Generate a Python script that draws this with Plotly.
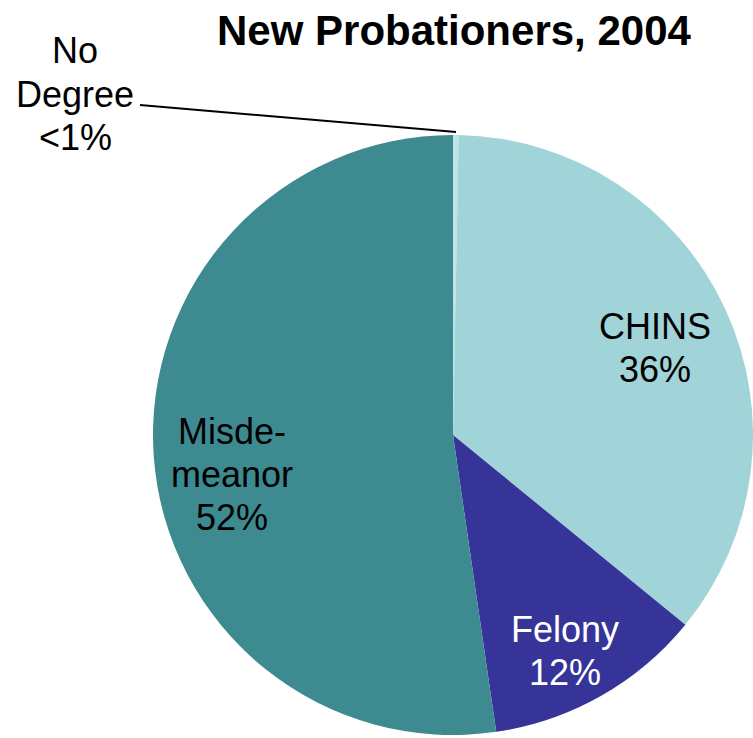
import plotly.graph_objects as go

W, H = 753, 738

categories = ["No Degree", "CHINS", "Felony", "Misdemeanor"]
values = [0.3, 35.6, 11.8, 52.3]
label_lines = [["No", "Degree", "<1%"], ["CHINS", "36%"], ["Felony", "12%"], ["Misde-", "meanor", "52%"]]
colors = ["#BEE2E5", "#A0D4D8", "#363499", "#3D8A90"]
title_text = "New Probationers, 2004"

# pie geometry (pixels)
cx, cy, r = 454, 435, 301

fig = go.Figure(go.Pie(
    labels=categories,
    values=values,
    sort=False,
    direction="clockwise",
    rotation=0,
    marker=dict(colors=colors, line=dict(width=0)),
    textinfo="none",
    hoverinfo="label+percent",
    showlegend=False,
    domain=dict(x=[(cx - r) / W, min(1, (cx + r) / W)], y=[1 - (cy + r) / H, 1 - (cy - r) / H]),
))

def px(x, y):
    return x / W, 1 - y / H

FONT = "Liberation Sans, Arial"
label_first = [(75, 51), (655, 326), (565, 629), (232, 431)]
label_colors = ["black", "black", "white", "black"]
line_gap = 43
annotations = []
for lines, (x, y), c in zip(label_lines, label_first, label_colors):
    for i, t in enumerate(lines):
        ax, ay = px(x, y + i * line_gap)
        annotations.append(dict(x=ax, y=ay, xref="paper", yref="paper", text=t, showarrow=False,
                                xanchor="center", yanchor="middle", align="center",
                                font=dict(family=FONT, size=36, color=c)))
tx, ty = px(454, 31)
annotations.append(dict(x=tx, y=ty, xref="paper", yref="paper", text="<b>" + title_text + "</b>",
                        showarrow=False, xanchor="center", yanchor="middle",
                        font=dict(family=FONT, size=42, color="black")))

x0, y0 = px(140, 105)
x1, y1 = px(456, 132)
fig.add_shape(type="line", xref="paper", yref="paper", x0=x0, y0=y0, x1=x1, y1=y1,
              line=dict(color="black", width=2))

fig.update_layout(width=W, height=H, margin=dict(l=0, r=0, t=0, b=0),
                  paper_bgcolor="white", plot_bgcolor="white", annotations=annotations)

fig.write_html("out.html", config={"displayModeBar": False},
               post_script="document.body.style.margin='0';document.body.style.overflow='hidden';")
